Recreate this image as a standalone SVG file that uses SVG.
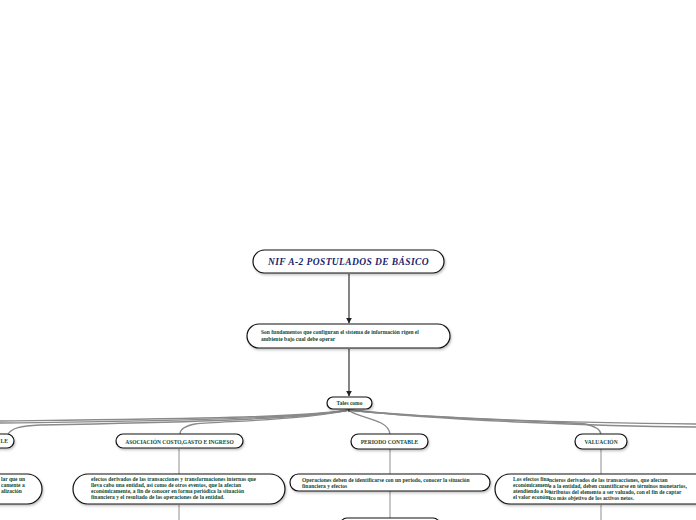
<svg xmlns="http://www.w3.org/2000/svg" width="696" height="520" viewBox="0 0 696 520">
<defs>
<marker id="arr" viewBox="0 0 10 10" refX="9" refY="5" markerWidth="5" markerHeight="5" orient="auto"><path d="M0,0 L10,5 L0,10 z" fill="#222"/></marker>
<filter id="sh" x="-10%" y="-30%" width="120%" height="160%"><feDropShadow dx="1" dy="1.5" stdDeviation="1" flood-color="#000" flood-opacity="0.25"/></filter>
</defs>
<style>
.n{fill:#fff;stroke:#111;stroke-width:1.2;filter:url(#sh)}
.t{font-family:"Liberation Serif",serif;font-weight:bold;font-size:5.5px;fill:#0f4a35}
.b{font-family:"Liberation Serif",serif;font-weight:bold;font-size:5.5px;fill:#0f4a35}
.c{fill:none;stroke:#8a8a8a;stroke-width:1.3}
.v{fill:none;stroke:#aaa;stroke-width:1.3}
.a{fill:none;stroke:#333;stroke-width:1.2}
</style>
<rect width="696" height="520" fill="#fff"/>
<g id="connectors">
<path class="a" d="M349,274 L349,323" marker-end="url(#arr)"/>
<path class="a" d="M349,349 L349,396" marker-end="url(#arr)"/>
<path class="c" d="M349,410 C300,418 150,419 0,421" stroke-width="1.6"/>
<path class="c" d="M349,410 C300,419 150,421 0,423" stroke-width="1.2"/>
<path class="c" d="M349,410 C300,420 150,423 40,425 C20,426 12,428 8,434"/>
<path class="c" d="M349,410 C300,420 230,421 195,424 C185,426 180,429 180,434"/>
<path class="c" d="M349,410 C356,418 388,418 390,434" stroke-width="1"/>
<path class="c" d="M349,410 C420,419 560,421 585,424 C595,426 600,429 601,434"/>
<path class="c" d="M349,410 C450,420 600,423 696,424" stroke-width="1.6"/>
<path class="c" d="M349,410 C450,421 600,426 696,427" stroke-width="1.2"/>
<path class="a" d="M349,409 L349,412" stroke-width="2"/>
<path class="v" d="M179,449 L179,474 M179,505 L179,520"/>
<path class="v" d="M390,449 L390,474 M390,491 L390,518"/>
<path class="v" d="M601,449 L601,474 M601,505 L601,520"/>
</g>
<g id="title">
<rect class="n" x="253" y="250" width="191" height="23" rx="11.5"/>
<text x="348.5" y="265" text-anchor="middle" font-family="'Liberation Serif',serif" font-weight="bold" font-style="italic" font-size="9.5" fill="#1a1f6b" letter-spacing="0.4">NIF A-2 POSTULADOS DE BÁSICO</text>
</g>
<g id="fundamentos">
<rect class="n" x="247" y="324" width="203" height="24" rx="12"/>
<text class="t" x="261" y="334">Son fundamentos que configuran el sistema de información rigen el</text>
<text class="t" x="261" y="340.5">ambiente bajo cual debe operar</text>
</g>
<g id="tales">
<rect class="n" x="327" y="397" width="45" height="12" rx="6"/>
<text class="t" x="349.5" y="405" text-anchor="middle">Tales como</text>
</g>
<g id="devengacion">
<rect class="n" x="-60" y="434" width="74" height="14" rx="7"/>
<text class="b" x="0.5" y="443">LE</text>
</g>
<g id="asociacion">
<rect class="n" x="116" y="434" width="127" height="14" rx="7"/>
<text class="b" x="179.5" y="443.5" text-anchor="middle">ASOCIACIÓN COSTO,GASTO E INGRESO</text>
</g>
<g id="periodo">
<rect class="n" x="351" y="434" width="77" height="15" rx="7.5"/>
<text class="b" x="389.5" y="443.5" text-anchor="middle">PERIODO CONTABLE</text>
</g>
<g id="valuacion">
<rect class="n" x="575" y="434" width="52" height="15" rx="7.5"/>
<text class="b" x="601" y="443.5" text-anchor="middle">VALUACIÓN</text>
</g>
<g id="devengacion-desc">
<rect class="n" x="-160" y="474" width="202" height="30" rx="15"/>
<text class="t" x="1" y="481">lar que un</text>
<text class="t" x="1" y="487">camente a</text>
<text class="t" x="1" y="493">alización</text>
</g>
<g id="asociacion-desc">
<rect class="n" x="73" y="474" width="212" height="30" rx="15"/>
<text class="t" x="91" y="481">efectos derivados de las transacciones y transformaciones internas que</text>
<text class="t" x="91" y="487">lleva cabo una entidad, así como de otros eventos, que la afectan</text>
<text class="t" x="91" y="493">económicamente, a fin de conocer en forma periódica la situación</text>
<text class="t" x="91" y="499">financiera y el resultado de las operaciones de la entidad.</text>
</g>
<g id="periodo-desc">
<rect class="n" x="290" y="474" width="200" height="17" rx="8.5"/>
<text class="t" x="302" y="481.5">Operaciones deben de identificarse con un periodo, conocer la situación</text>
<text class="t" x="302" y="487.5">financiera y efectos</text>
</g>
<g id="valuacion-desc">
<rect class="n" x="495" y="474" width="240" height="30" rx="15"/>
<text class="t" x="513" y="480.5">Los efectos fina</text>
<text class="t" x="513" y="486.5">económicament</text>
<text class="t" x="513" y="492.5">atendiendo a los</text>
<text class="t" x="513" y="498.5">el valor económ</text>
<text class="t" x="549" y="481.5">ncieros derivados de las transacciones, que afectan</text>
<text class="t" x="549" y="487.5">e a la entidad, deben cuantificarse en términos monetarios,</text>
<text class="t" x="549" y="493.5">atributos del elemento a ser valuado, con el fin de captar</text>
<text class="t" x="549" y="499.5">ico más objetivo de los activos netos.</text>
</g>
<g id="periodo-child">
<rect class="n" x="340" y="518" width="100" height="14" rx="7"/>
</g>
</svg>
